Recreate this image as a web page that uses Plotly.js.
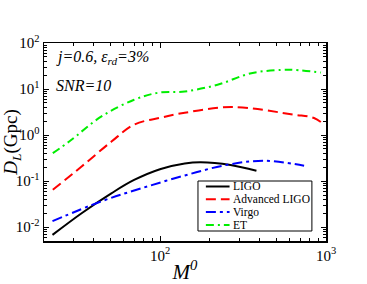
<!DOCTYPE html>
<html>
<head>
<meta charset="utf-8">
<script src="https://cdn.plot.ly/plotly-3.0.1.min.js"></script>
<style>html,body{margin:0;padding:0;background:#fff;}#chart{width:367px;height:284px;}</style>
</head>
<body>
<div id="chart"></div>
<script>
// Data (mass M0, luminosity distance D_L in Gpc)
const ligoM   = [22.5, 33.7, 50.9, 69.8, 101, 141, 176, 266, 381];
const ligoD   = [0.0068, 0.0201, 0.0543, 0.106, 0.184, 0.242, 0.257, 0.224, 0.168];

const aligoM  = [22.6, 33.7, 51, 69.8, 101, 141, 270, 643, 847, 973];
const aligoD  = [0.065, 0.208, 0.724, 1.69, 2.39, 3.06, 4.07, 2.77, 2.35, 1.69];

const virgoM  = [22.5, 44.4, 77, 141, 255, 426, 738];
const virgoD  = [0.0135, 0.0365, 0.0697, 0.133, 0.227, 0.277, 0.216];

const etM     = [22.6, 28.5, 44.4, 69.8, 97.3, 141, 222, 355, 538, 643, 933];
const etD     = [0.405, 0.734, 2.55, 5.86, 8.3, 8.86, 12.4, 22.1, 26.1, 26.1, 22.8];

const seriesNames = ['LIGO', 'Advanced LIGO', 'Virgo', 'ET'];
const seriesColors = ['#000000', '#ff0000', '#0000ff', '#00ee00'];
const seriesDash = ['solid', '10px,5px', '10px,4px,3px,4px', '8px,4px,2px,4px'];

const xTickVals = [100, 1000];
const xTickText = ['10<sup>2</sup>', '10<sup>3</sup>'];
const yTickVals = [0.01, 0.1, 1, 10, 100];
const yTickText = ['10<sup>-2</sup>', '10<sup>-1</sup>', '10<sup>0</sup>', '10<sup>1</sup>', '10<sup>2</sup>'];

const xs = [ligoM, aligoM, virgoM, etM];
const ys = [ligoD, aligoD, virgoD, etD];

const traces = xs.map((x, i) => ({
  x: x, y: ys[i], type: 'scatter', mode: 'lines', name: seriesNames[i],
  line: {color: seriesColors[i], width: 2, dash: seriesDash[i], shape: 'spline', smoothing: 1},
  showlegend: false, hoverinfo: 'skip'
}));

function minorVals(lo, hi) {
  const v = [];
  for (let d = lo; d <= hi; d++) {
    for (let k = 2; k <= 9; k++) v.push(k * Math.pow(10, d));
  }
  return v;
}

const font = 'Liberation Serif, Times New Roman, serif';

// custom compact legend (paper coordinates)
const legX0 = 0.546, legX1 = 0.950, legY0 = 0.0505, legY1 = 0.303;
const legRowY = [0.2753, 0.2106, 0.1460, 0.0813];
const shapes = [{type: 'rect', xref: 'paper', yref: 'paper', x0: legX0, x1: legX1, y0: legY0, y1: legY1,
  line: {color: '#000', width: 1}, fillcolor: '#fff', layer: 'above'}];
const annotations = [];
seriesNames.forEach((n, i) => {
  shapes.push({type: 'line', xref: 'paper', yref: 'paper', x0: 0.574, x1: 0.658, y0: legRowY[i], y1: legRowY[i],
    line: {color: seriesColors[i], width: 2, dash: seriesDash[i]}, layer: 'above'});
  annotations.push({xref: 'paper', yref: 'paper', x: 0.664, y: legRowY[i], xanchor: 'left', yanchor: 'middle',
    text: n, showarrow: false, font: {family: font, size: 11.5, color: '#000'}});
});
annotations.push({xref: 'paper', yref: 'paper', x: 0.035, y: 0.985, xanchor: 'left', yanchor: 'top',
  text: '<i>j=0.6, ε<sub>rd</sub>=3%</i>', showarrow: false, font: {family: font, size: 16, color: '#000'}});
annotations.push({xref: 'paper', yref: 'paper', x: 0.035, y: 0.84, xanchor: 'left', yanchor: 'top',
  text: '<i>SNR=10</i>', showarrow: false, font: {family: font, size: 16, color: '#000'}});

const layout = {
  width: 367, height: 284,
  margin: {l: 44, r: 41, t: 43, b: 43, pad: 0},
  paper_bgcolor: '#fff', plot_bgcolor: '#fff',
  font: {family: font, size: 15, color: '#000'},
  showlegend: false,
  xaxis: {
    type: 'log', range: [Math.log10(20), 3], autorange: false,
    tickmode: 'array', tickvals: xTickVals, ticktext: xTickText,
    ticks: 'inside', ticklen: 5, tickwidth: 1, tickcolor: '#000',
    minor: {tickmode: 'array', tickvals: minorVals(1, 2), ticks: 'inside', ticklen: 3, tickcolor: '#000', showgrid: false},
    showline: true, linecolor: '#000', linewidth: 1.5, mirror: 'ticks',
    showgrid: false, zeroline: false,
    tickfont: {family: font, size: 15},
    title: {text: '<i>M<sup>0</sup></i>', font: {family: font, size: 21}, standoff: 6}
  },
  yaxis: {
    type: 'log', range: [-2.3, 2], autorange: false,
    tickmode: 'array', tickvals: yTickVals, ticktext: yTickText,
    ticks: 'inside', ticklen: 5, tickwidth: 1, tickcolor: '#000',
    minor: {tickmode: 'array', tickvals: minorVals(-3, 1), ticks: 'inside', ticklen: 3, tickcolor: '#000', showgrid: false},
    showline: true, linecolor: '#000', linewidth: 1.5, mirror: 'ticks',
    showgrid: false, zeroline: false,
    tickfont: {family: font, size: 15},
    title: {text: '<i>D</i><sub><i>L</i></sub>(Gpc)', font: {family: font, size: 19}, standoff: 4}
  },
  shapes: shapes,
  annotations: annotations
};

Plotly.newPlot('chart', traces, layout, {staticPlot: true, displayModeBar: false});
</script>
</body>
</html>
